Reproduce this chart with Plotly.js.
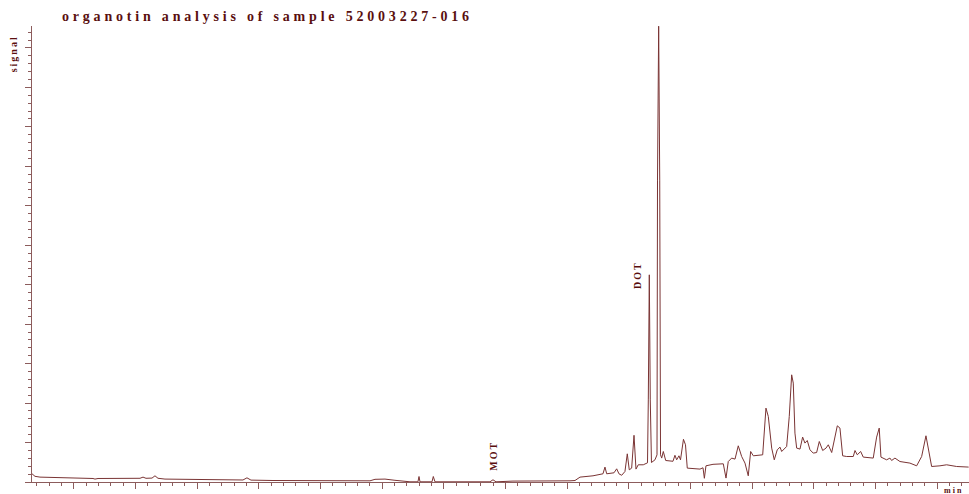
<!DOCTYPE html>
<html>
<head>
<meta charset="utf-8">
<script src="https://cdn.plot.ly/plotly-3.0.1.min.js"></script>
<style>
  html, body { margin: 0; padding: 0; background: #fff; }
  #chart { width: 969px; height: 494px; }
  .gtitle { letter-spacing: 3.8px; }
  .annotation-text { letter-spacing: 2px; }
</style>
</head>
<body>
<div id="chart"></div>
<script>
// Retention time (min) and detector signal
const timeMin = [
  0.320, 0.368, 0.449, 0.774, 1.098, 1.309, 1.341, 1.390, 2.071, 2.120, 2.168, 2.266, 2.314, 2.363, 2.476,
  3.206, 3.741, 3.806, 3.871, 4.228, 5.314, 5.801, 5.882, 6.044, 6.206, 6.450, 6.579, 6.596, 6.612, 6.807,
  6.828, 6.855, 7.747, 7.796, 7.845, 7.990, 8.120, 9.045, 9.126, 9.207, 9.418, 9.580, 9.612, 9.640, 9.758,
  9.802, 9.839, 9.883, 9.936, 9.974, 10.006, 10.045, 10.083, 10.115, 10.152, 10.233, 10.302, 10.315, 10.331,
  10.347, 10.366, 10.423, 10.456, 10.464, 10.483, 10.500, 10.513, 10.532, 10.558, 10.597, 10.715, 10.747,
  10.775, 10.812, 10.837, 10.885, 10.918, 10.947, 11.153, 11.202, 11.224, 11.250, 11.364, 11.531, 11.575,
  11.612, 11.667, 11.721, 11.774, 11.829, 11.883, 11.936, 11.975, 12.018, 12.170, 12.223, 12.261, 12.316,
  12.358, 12.406, 12.451, 12.478, 12.559, 12.601, 12.640, 12.666, 12.693, 12.721, 12.775, 12.818, 12.855,
  12.893, 12.937, 12.990, 13.045, 13.088, 13.143, 13.197, 13.234, 13.289, 13.342, 13.380, 13.423, 13.467,
  13.532, 13.639, 13.667, 13.704, 13.759, 13.801, 13.963, 14.018, 14.060, 14.088, 14.180, 14.234, 14.261,
  14.315, 14.396, 14.558, 14.667, 14.748, 14.818, 14.855, 14.910, 15.045, 15.153, 15.315, 15.510
];
const signal = [
  2.08, 1.44, 1.24, 1.14, 0.99, 0.89, 0.74, 0.89, 0.94, 1.24, 0.94, 0.99, 1.57, 0.94, 0.74,
  0.56, 0.51, 1.06, 0.48, 0.38, 0.30, 0.30, 0.68, 0.74, 0.43, 0.05, 0.05, 1.39, 0.05, 0.05,
  1.39, 0.05, 0.05, 0.56, 0.05, 0.18, 0.23, 0.30, 0.38, 1.24, 1.57, 2.08, 3.78, 2.08, 2.33,
  3.34, 2.08, 1.70, 2.66, 7.14, 3.09, 3.52, 11.83, 3.27, 4.36, 4.36, 4.86, 20.8, 52.5,
  20.8, 4.94, 5.62, 6.89, 76.5, 115.5, 76.5, 6.89, 6.06, 7.73, 5.45, 5.25, 6.77,
  5.62, 6.64, 5.62, 10.82, 9.43, 3.52, 3.27, 3.60, 0.94, 4.10, 4.48, 4.61, 0.99,
  5.19, 6.06, 5.80, 9.17, 6.46, 4.79, 1.57, 7.73, 6.64, 6.89, 18.72, 16.60, 8.59,
  5.62, 8.16, 8.84, 7.73, 9.00, 16.60, 27.16, 25.06, 12.39, 8.59, 8.34, 11.38, 9.86,
  10.51, 8.16, 7.32, 7.47, 10.26, 7.98, 8.59, 9.43, 7.47, 11.12, 14.24, 13.66, 6.64,
  6.46, 6.46, 7.98, 6.89, 7.73, 6.31, 6.06, 11.38, 13.66, 6.31, 5.62, 6.06, 5.45,
  6.06, 5.19, 4.79, 4.10, 6.46, 11.71, 8.16, 3.93, 4.10, 4.36, 3.93, 3.78
];
// Peak labels
const peakNames = ["MOT", "DOT"];
const peakTimes = [7.81, 10.15];
const peakLabelY = [6.6, 52.5];

const titleText = "organotin analysis of sample 52003227-016";
const yTitleText = "signal";
const xTitleText = "min";

const maroon = "#5a0f0f";
const axisCol = "#8c5c5c";
const serif = "Liberation Serif, Times New Roman, serif";

const trace = {
  x: timeMin, y: signal, type: "scatter", mode: "lines",
  line: { color: "#7a3434", width: 1 }, hoverinfo: "skip"
};

const annotations = peakNames.map((n, i) => ({
  x: peakTimes[i], y: peakLabelY[i], xref: "x", yref: "y",
  text: n, showarrow: false, textangle: -90,
  font: { family: serif, size: 10, color: maroon, weight: "bold" }
}));
annotations.push({
  x: -0.0277, y: 0.984, xref: "paper", yref: "paper", text: yTitleText,
  showarrow: false, textangle: -90,
  font: { family: serif, size: 10, color: maroon, weight: "bold" }
});
annotations.push({
  x: 0.996, y: -0.032, xref: "paper", yref: "paper", text: xTitleText,
  showarrow: false, font: { family: serif, size: 8, color: maroon, weight: "bold" }
});

const layout = {
  width: 969, height: 494,
  margin: { l: 32, r: 0, t: 26, b: 12, pad: 0 },
  paper_bgcolor: "#ffffff", plot_bgcolor: "#ffffff",
  showlegend: false,
  title: {
    text: titleText, xref: "container", yref: "container",
    x: 62 / 969, xanchor: "left", y: 1 - 16.5 / 494, yanchor: "middle",
    font: { family: serif, size: 14, color: maroon, weight: "bold" }
  },
  xaxis: {
    range: [0.3195, 15.516], showgrid: false, zeroline: false,
    showline: true, linecolor: axisCol, linewidth: 1,
    ticks: "outside", ticklen: 6, tickcolor: axisCol, tickwidth: 1,
    tick0: 0, dtick: 1, showticklabels: false,
    minor: { ticks: "outside", ticklen: 3, tickcolor: axisCol, dtick: 0.2, tick0: 0, showgrid: false }
  },
  yaxis: {
    range: [0, 115.55], showgrid: false, zeroline: false,
    showline: true, linecolor: axisCol, linewidth: 1,
    ticks: "outside", ticklen: 6, tickcolor: axisCol, tickwidth: 1,
    tick0: 0, dtick: 10, showticklabels: false,
    minor: { ticks: "outside", ticklen: 3, tickcolor: axisCol, dtick: 2, tick0: 0, showgrid: false }
  },
  annotations: annotations
};

Plotly.newPlot("chart", [trace], layout, { displayModeBar: false, staticPlot: true });
</script>
</body>
</html>
